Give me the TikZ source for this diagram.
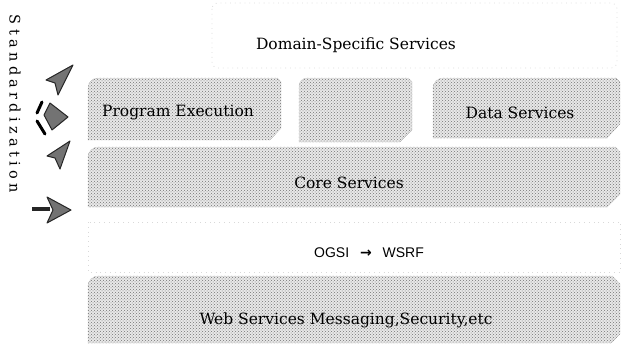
\documentclass[tikz,border=0pt]{standalone}
\usepackage{fontspec}
\setmainfont{DejaVu Serif}
\newfontfamily\ogsifont{Liberation Sans}
\newfontfamily\arrowfont{DejaVu Sans}
\newfontfamily\stdfont[LetterSpace=30]{DejaVu Serif}
\usetikzlibrary{patterns}

\begin{document}
\begin{tikzpicture}[x=1pt,y=-1pt,
    layer/.style={preaction={fill=black!9}, pattern=crosshatch dots, pattern color=black!55, draw=black!55, densely dotted},
    faint/.style={draw=black!15, loosely dotted, thick},
    dart/.style={fill=black!55, draw=black!85, line width=1pt, line join=round},
    lbl/.style={font=\fontsize{15.5}{18}\selectfont, inner sep=1pt}]
        \useasboundingbox (0,0) rectangle (621,345);

        % faint background regions
        \draw[faint, rounded corners=6pt] (212,3) rectangle (617,68);
        \draw[faint] (88,222) rectangle (620,272);

        % service layers
        \path[layer] (88,140) -- (88,88) arc[start angle=180, end angle=270, radius=10] -- (277,78) -- (281,82) -- (281,128) -- (270,140) -- cycle;
        \path[layer] (299,142) -- (299,86) arc[start angle=180, end angle=270, radius=8] -- (408,78) -- (412,82) -- (412,130) -- (400,142) -- cycle;
        \path[layer] (433,138) -- (433,88) arc[start angle=180, end angle=270, radius=10] -- (616,78) -- (620,82) -- (620,124) -- (607,138) -- cycle;
        \path[layer] (88,207) -- (88,157) arc[start angle=180, end angle=270, radius=10] -- (615,147) -- (620,152) -- (620,194) -- (607,207) -- cycle;
        \path[layer] (88,343) -- (88,286) arc[start angle=180, end angle=270, radius=10] -- (612,276) -- (620,284) -- (620,334) -- (611,343) -- cycle;

        \node[lbl] (domain) at (356,45) {Domain-Specific Services};
        \node[lbl] (progexec) at (178,113) {Program Execution};
        \node[lbl] (datasvc) at (520,113) {Data Services};
        \node[lbl] (coresvc) at (349,183) {Core Services};
        \node[lbl, font=\ogsifont\fontsize{14}{16}\selectfont] (ogsi) at (369,253) {OGSI\enspace\ {\arrowfont\bfseries →}\enspace\ WSRF};
        \node[lbl] (websvc) at (346,320) {Web Services Messaging,Security,etc};
        \node[lbl, font=\stdfont\fontsize{14.5}{17}\selectfont, rotate=-90] (stdz) at (15,104) {Standardization};

        % standardization arrows
        \draw[dart] (73,65) -- (46,80) -- (55,83) -- (58,95) -- cycle;
        \draw[dart] (68,117) -- (50,103) -- (44,115) -- (52,130) -- cycle;
        \draw[black, line width=3pt, line cap=round] (42,102) -- (37,113);
        \draw[black, line width=3pt, line cap=round] (37,121) -- (45,134);
        \draw[dart] (70,141) -- (47,156) -- (55,158) -- (60,169) -- cycle;
        \draw[black!85, line width=4pt] (32,209) -- (50,209);
        \draw[dart] (71,210) -- (47,197) -- (53,210) -- (47,223) -- cycle;
\end{tikzpicture}
\end{document}
